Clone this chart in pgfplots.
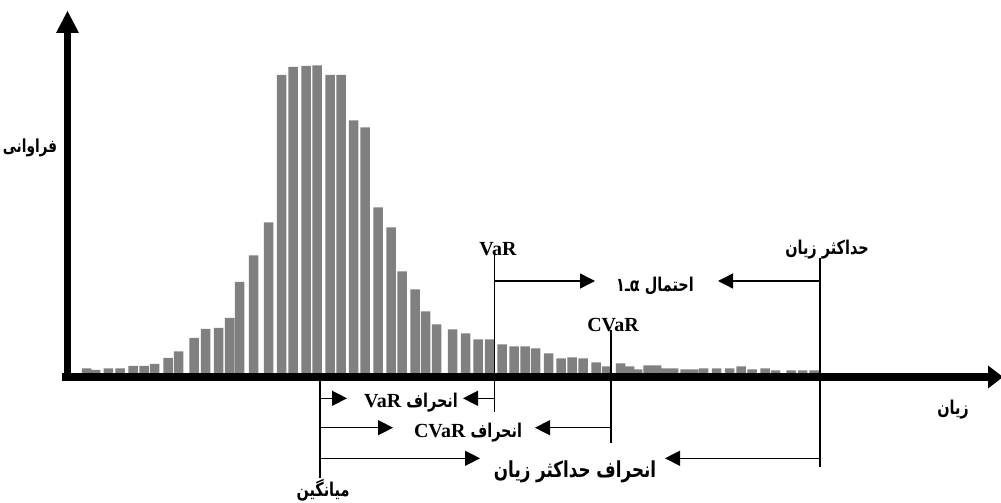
\documentclass[border=0pt]{standalone}
\usepackage{fontspec}
\setmainfont{Liberation Serif}
\newfontfamily\af[Script=Arabic, FakeStretch=0.76]{DejaVu Sans}
\TeXXeTstate=1
\usepackage{pgfplots}
\pgfplotsset{compat=1.18}
\usetikzlibrary{arrows.meta}

% loss histogram (x = bar centre, y = bar height, both in picture pixels)
\pgfplotstableread{
x     h
86.7  5
95.7  3.3
108.3 5
120   5
133   7.3
144   7.3
154.5 9.3
168   15.3
178.5 22
194   35.3
205.5 44.3
218.5 45.3
229.5 55.3
239.5 91.3
253.5 118
268.5 151
281.5 298.3
293   306.3
306   307.3
317   308
330   298.3
341   298.3
353.5 253
365   246
378   166
391   146
402   102
415   84
425.5 62
436.5 49
452.5 44
465.5 40
478   34
489.5 34
502   29
514   27
525   27
535.5 25
548.5 20
561   15
572   16
583   15
596   11
606.5 7
620.5 10
629.5 7
637.5 4
648   8
656.5 8
665   5
673.5 5
685   4
693.5 4
703.5 5
716.5 5
729.5 5
741   7
752   4
765   5
775.5 3
791   3
802.5 3
814   3
}\losses

\begin{document}
\begin{tikzpicture}[
  thinl/.style={line width=0.7pt},
  dev/.style={line width=0.7pt, -{Triangle[length=7.5pt,width=7.5pt]}},
  fa/.style={font=\af\bfseries\fontsize{9.5}{11}\selectfont, inner sep=0pt},
  la/.style={font=\bfseries\fontsize{10}{12}\selectfont, inner sep=0pt},
]
\begin{axis}[
  scale only axis, width=500.5pt, height=251.5pt,
  xmin=0, xmax=1001, ymin=-129.7, ymax=373.3,
  axis lines=none, ticks=none, clip=false,
]
\coordinate (SW) at (rel axis cs:0,0);
\coordinate (NE) at (rel axis cs:1,1);

\addplot[ybar, bar width=9.5, bar shift=0pt, fill=gray, draw=none]
  table[x=x, y=h] {\losses};

% axes
\draw[line width=3.75pt] (axis cs:67.5,-7.7) -- (axis cs:67.5,341);
\fill (axis cs:56,340.3) -- (axis cs:67.5,362.3) -- (axis cs:79,340.3) -- cycle;
\draw[line width=4pt] (axis cs:62,-3.7) -- (axis cs:989,-3.7);
\fill (axis cs:988,7.8) -- (axis cs:1003,-3.7) -- (axis cs:988,-15.2) -- cycle;

% marker lines
\draw[thinl] (axis cs:494.5,120.3) -- (axis cs:494.5,-38.7);
\draw[thinl] (axis cs:611,43.3) -- (axis cs:611,-69.7);
\draw[thinl] (axis cs:820,115.3) -- (axis cs:820,-93.7);
\draw[thinl] (axis cs:320,-7.7) -- (axis cs:320,-104.7);

% arrows
\draw[dev] (axis cs:494.5,92.3) -- (axis cs:595,92.3);
\draw[dev] (axis cs:820,92.3) -- (axis cs:718,92.3);
\draw[dev] (axis cs:320,-25) -- (axis cs:347,-25);
\draw[dev] (axis cs:494.5,-25) -- (axis cs:463,-25);
\draw[dev] (axis cs:320,-54.4) -- (axis cs:393,-54.4);
\draw[dev] (axis cs:611,-54.4) -- (axis cs:535,-54.4);
\draw[dev] (axis cs:320,-85) -- (axis cs:480,-85);
\draw[dev] (axis cs:820,-85) -- (axis cs:665,-85);

% labels
\node[fa, font=\af\bfseries\fontsize{9}{10}\selectfont] at (axis cs:30,225.3) {فراوانی};
\node[fa] at (axis cs:953,-36.7) {زیان};
\node[fa] at (axis cs:827,123.3) {\beginR حداکثر زیان\endR};
\node[la] at (axis cs:498,124.3) {VaR};
\node[la] at (axis cs:613,48.3) {CVaR};
\node[fa] at (axis cs:655,87.3) {\beginR احتمال \beginL ۱\kern0ptـ\kern0ptα\endL\endR};
\node[fa] at (axis cs:411,-29.7) {\beginR انحراف \beginL{\rmfamily\fontsize{10}{12}\selectfont VaR}\endL\endR};
\node[fa] at (axis cs:468,-59.7) {\beginR انحراف \beginL{\rmfamily\fontsize{10}{12}\selectfont CVaR}\endL\endR};
\node[fa] at (axis cs:575,-98.7) {\fontsize{11}{13}\selectfont\beginR انحراف حداکثر زیان\endR};
\node[fa] at (axis cs:323,-116.7) {میانگین};
\end{axis}
\pgfresetboundingbox
\useasboundingbox (SW) rectangle (NE);
\end{tikzpicture}
\end{document}
